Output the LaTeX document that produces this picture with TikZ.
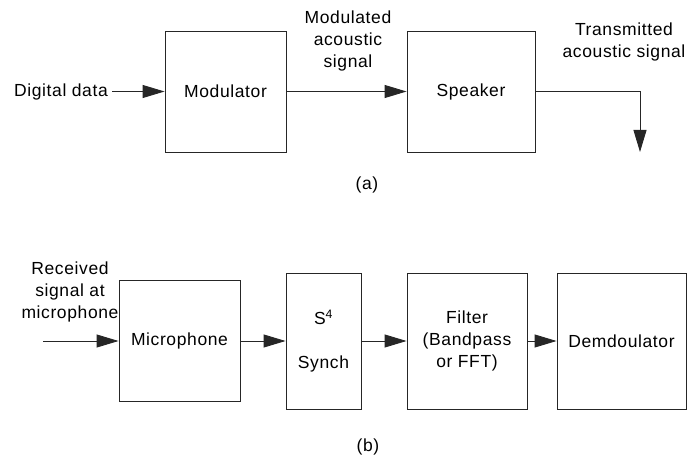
\documentclass[tikz,border=0pt]{standalone}
\usepackage{fontspec}
\setmainfont[LetterSpace=3.5]{Liberation Sans}
\usetikzlibrary{arrows.meta}
\begin{document}
\begin{tikzpicture}[x=1pt,y=-1pt,
  font=\fontsize{17.5}{22}\selectfont,
  blk/.style={draw=black!85, line width=0.9pt, inner sep=0pt, align=center},
  lbl/.style={align=center, inner sep=0pt},
  conn/.style={draw=black!85, line width=0.9pt, -{Triangle[length=22pt,width=13pt]}},
]
\useasboundingbox (0,0) rectangle (688,457);
% (a)
\node[blk, minimum width=121pt, minimum height=121pt] (mod) at (225.5,91.5) {Modulator};
\node[blk, minimum width=128pt, minimum height=121pt] (spk) at (471,91.5) {Speaker};
\node[lbl, inner xsep=4pt, anchor=east] (dd) at (112,91.5) {Digital data};
\node[lbl] (mas) at (348,41) {Modulated\\acoustic\\signal};
\node[lbl] (tas) at (624,42) {Transmitted\\acoustic signal};
\coordinate (out) at (640,152);
\draw[conn] (dd.east) -- (mod.west);
\draw[conn] (mod.east) -- (spk.west);
\draw[conn] (spk.east) -| (out);
\node[lbl] (capa) at (367,185) {(a)};
% (b)
\node[blk, minimum width=121pt, minimum height=121pt] (mic) at (179.5,341) {Microphone};
\node[blk, minimum width=75pt, minimum height=136pt] (syn) at (323.5,341) {S\textsuperscript{4}\\[22pt]Synch};
\node[blk, minimum width=120pt, minimum height=136pt] (fil) at (467,341) {Filter\\(Bandpass\\or FFT)};
\node[blk, minimum width=129pt, minimum height=136pt] (dem) at (621.5,341) {Demdoulator};
\node[lbl] (rsm) at (70,292) {Received\\signal at\\microphone};
\coordinate (rin) at (43,341);
\draw[conn] (rin) -- (mic.west);
\draw[conn] (mic.east) -- (syn.west);
\draw[conn] (syn.east) -- (fil.west);
\draw[conn] (fil.east) -- (dem.west);
\node[lbl] (capb) at (368,447) {(b)};
\end{tikzpicture}
\end{document}
